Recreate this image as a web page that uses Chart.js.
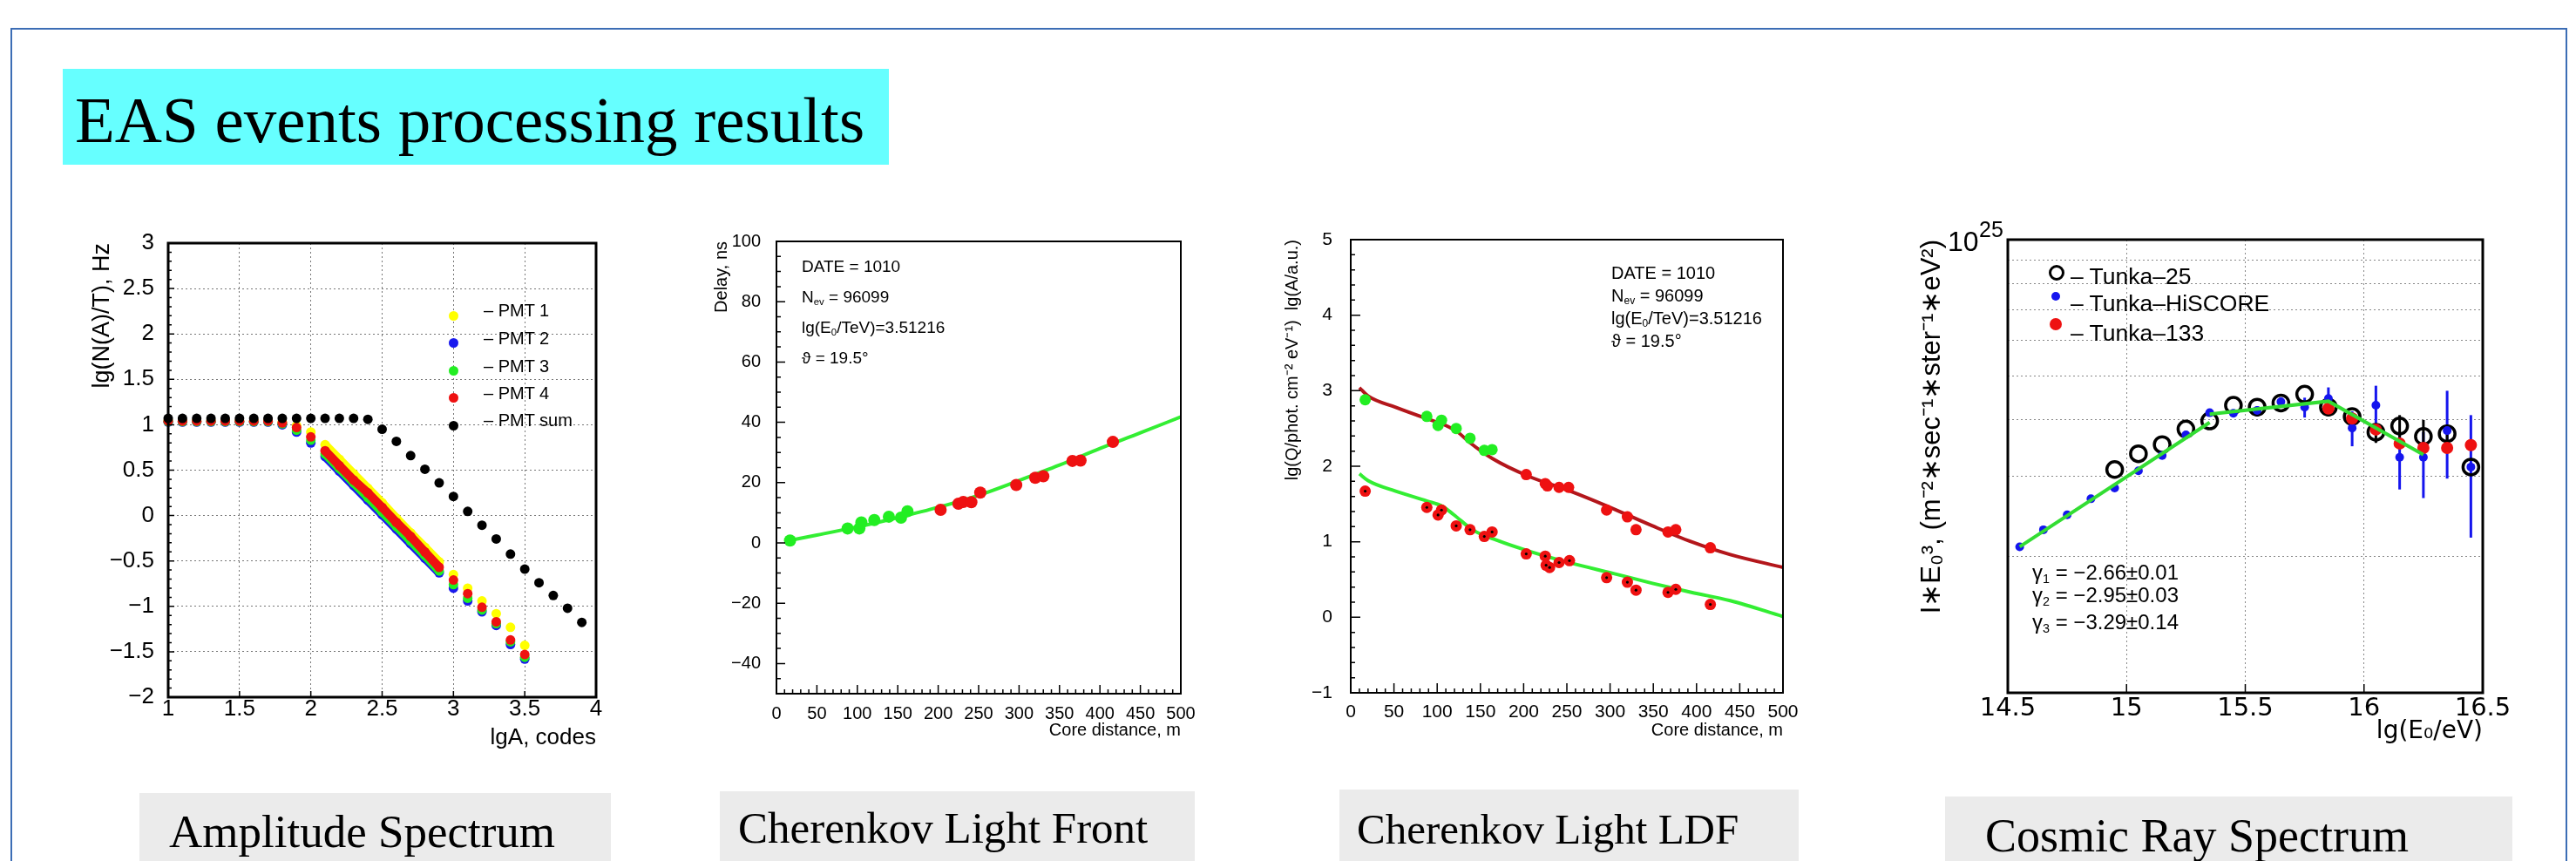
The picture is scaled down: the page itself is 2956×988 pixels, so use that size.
<!DOCTYPE html>
<html>
<head>
<meta charset="utf-8">
<script src="https://cdn.jsdelivr.net/npm/chart.js@4.4.1/dist/chart.umd.min.js"></script>
<style>
body { margin:0; width:2956px; height:988px; overflow:hidden; background:#fff; position:relative; font-family:'Liberation Sans', Arial, sans-serif; }
.abs { position:absolute; white-space:nowrap; line-height:1; color:#000; }
.serif { font-family:'Liberation Serif', 'Times New Roman', serif; }
canvas { position:absolute; }
.dot { position:absolute; border-radius:50%; box-sizing:border-box; }
.box { position:absolute; background:#ebebeb; }
sub { font-size:60%; vertical-align:-0.25em; line-height:0; }
</style>
</head>
<body>
<div style="position:absolute;left:12px;top:32px;width:2930px;height:1000px;border:2px solid #3c6db5;"></div>

<div class="box" style="left:72px;top:79px;width:948px;height:110px;background:#66ffff;"></div>
<div class="abs serif" style="left:86px;top:100px;font-size:75px;">EAS events processing results</div>

<canvas id="c1" width="640" height="611" style="left:80px;top:259px;"></canvas>
<canvas id="c2" width="640" height="613" style="left:760px;top:257px;"></canvas>
<canvas id="c3" width="650" height="615" style="left:1440px;top:255px;"></canvas>
<canvas id="c4" width="730" height="625" style="left:2170px;top:255px;"></canvas>

<!-- amplitude spectrum legend -->
<div class="dot" style="left:514.5px;top:356.5px;width:11px;height:11px;background:#ffff00;"></div>
<div class="dot" style="left:514.5px;top:387.5px;width:11px;height:11px;background:#1a1aee;"></div>
<div class="dot" style="left:514.5px;top:419.5px;width:11px;height:11px;background:#22ee22;"></div>
<div class="dot" style="left:514.5px;top:450.5px;width:11px;height:11px;background:#ee1111;"></div>
<div class="dot" style="left:514.5px;top:482.5px;width:11px;height:11px;background:#000;"></div>
<div class="abs" style="left:555px;top:346px;font-size:20px;">– PMT 1</div>
<div class="abs" style="left:555px;top:378px;font-size:20px;">– PMT 2</div>
<div class="abs" style="left:555px;top:410px;font-size:20px;">– PMT 3</div>
<div class="abs" style="left:555px;top:441px;font-size:20px;">– PMT 4</div>
<div class="abs" style="left:555px;top:472px;font-size:20px;">– PMT sum</div>

<!-- light front notes -->
<div class="abs" style="left:920px;top:296px;font-size:19px;">DATE = 1010</div>
<div class="abs" style="left:920px;top:331px;font-size:19px;">N<sub>ev</sub> = 96099</div>
<div class="abs" style="left:920px;top:366px;font-size:19px;">lg(E<sub>0</sub>/TeV)=3.51216</div>
<div class="abs" style="left:920px;top:401px;font-size:19px;">ϑ = 19.5°</div>

<!-- LDF notes -->
<div class="abs" style="left:1849px;top:303px;font-size:20px;">DATE = 1010</div>
<div class="abs" style="left:1849px;top:329px;font-size:20px;">N<sub>ev</sub> = 96099</div>
<div class="abs" style="left:1849px;top:355px;font-size:20px;">lg(E<sub>0</sub>/TeV)=3.51216</div>
<div class="abs" style="left:1849px;top:381px;font-size:20px;">ϑ = 19.5°</div>

<!-- cosmic ray spectrum notes -->
<div class="abs" style="left:2235px;top:261px;font-size:32px;">10</div>
<div class="abs" style="left:2271px;top:251px;font-size:25px;">25</div>
<div class="dot" style="left:2351px;top:304px;width:18px;height:18px;border:3.5px solid #000;"></div>
<div class="dot" style="left:2354px;top:335px;width:10px;height:10px;background:#1515ee;"></div>
<div class="dot" style="left:2352px;top:365px;width:14px;height:14px;background:#ee1111;"></div>
<div class="abs" style="left:2376px;top:304px;font-size:26.5px;">– Tunka–25</div>
<div class="abs" style="left:2376px;top:335px;font-size:26.5px;">– Tunka–HiSCORE</div>
<div class="abs" style="left:2376px;top:369px;font-size:26.5px;">– Tunka–133</div>
<div class="abs" style="left:2332px;top:645px;font-size:24px;">γ<sub>1</sub> = −2.66±0.01</div>
<div class="abs" style="left:2332px;top:671px;font-size:24px;">γ<sub>2</sub> = −2.95±0.03</div>
<div class="abs" style="left:2332px;top:702px;font-size:24px;">γ<sub>3</sub> = −3.29±0.14</div>

<!-- captions -->
<div class="box" style="left:160px;top:910px;width:541px;height:78px;"></div>
<div class="abs serif" style="left:194px;top:928px;font-size:53px;">Amplitude Spectrum</div>
<div class="box" style="left:826px;top:908px;width:545px;height:80px;"></div>
<div class="abs serif" style="left:847px;top:925px;font-size:51px;">Cherenkov Light Front</div>
<div class="box" style="left:1537px;top:906px;width:527px;height:82px;"></div>
<div class="abs serif" style="left:1557px;top:927px;font-size:49px;">Cherenkov Light LDF</div>
<div class="box" style="left:2232px;top:914px;width:651px;height:74px;"></div>
<div class="abs serif" style="left:2278px;top:932px;font-size:54px;">Cosmic Ray Spectrum</div>

<script>
// amplitude spectrum
const ampX = [1.0, 1.1, 1.2, 1.3, 1.4, 1.5, 1.6, 1.7, 1.8, 1.9, 2.0, 2.1, 2.2, 2.3, 2.4, 2.5, 2.6, 2.7, 2.8, 2.9, 3.0, 3.1, 3.2, 3.3, 3.4, 3.5];
const pmt1 = [1.04, 1.04, 1.04, 1.04, 1.04, 1.04, 1.04, 1.04, 1.03, 0.99, 0.92, 0.78, 0.62, 0.46, 0.30, 0.14, -0.03, -0.19, -0.35, -0.51, -0.65, -0.80, -0.94, -1.08, -1.23, -1.43];
const pmt2 = [1.03, 1.03, 1.03, 1.03, 1.03, 1.03, 1.03, 1.03, 1.00, 0.92, 0.80, 0.65, 0.49, 0.33, 0.17, 0.01, -0.15, -0.31, -0.47, -0.63, -0.80, -0.94, -1.06, -1.21, -1.42, -1.58];
const pmt3 = [1.035, 1.035, 1.035, 1.035, 1.035, 1.035, 1.035, 1.035, 1.01, 0.94, 0.83, 0.68, 0.52, 0.36, 0.20, 0.04, -0.12, -0.28, -0.44, -0.61, -0.76, -0.91, -1.04, -1.19, -1.39, -1.56];
const pmt4 = [1.04, 1.04, 1.04, 1.04, 1.04, 1.04, 1.04, 1.04, 1.02, 0.97, 0.866, 0.714, 0.55, 0.39, 0.25, 0.09, -0.075, -0.23, -0.40, -0.57, -0.71, -0.86, -1.01, -1.17, -1.37, -1.53];
const sumX = [1.0, 1.1, 1.2, 1.3, 1.4, 1.5, 1.6, 1.7, 1.8, 1.9, 2.0, 2.1, 2.2, 2.3, 2.4, 2.5, 2.6, 2.7, 2.8, 2.9, 3.0, 3.1, 3.2, 3.3, 3.4, 3.5, 3.6, 3.7, 3.8, 3.9];
const sumY = [1.07, 1.07, 1.07, 1.07, 1.07, 1.07, 1.07, 1.07, 1.07, 1.07, 1.07, 1.07, 1.07, 1.07, 1.06, 0.95, 0.817, 0.66, 0.51, 0.36, 0.21, 0.046, -0.106, -0.257, -0.424, -0.59, -0.74, -0.88, -1.02, -1.176];
const ampXTicks = [1, 1.5, 2, 2.5, 3, 3.5, 4];
const ampYTicks = [-2, -1.5, -1, -0.5, 0, 0.5, 1, 1.5, 2, 2.5, 3];

// Cherenkov light front
const frontGreenX = [16.8, 88, 102.5, 105, 121, 139, 154, 162];
const frontGreenY = [0.8, 4.8, 4.8, 6.8, 7.6, 8.7, 8.4, 10.5];
const frontRedX = [203, 225, 231, 241, 252, 296.5, 320, 330, 366, 376, 416];
const frontRedY = [11.0, 13.0, 13.6, 13.5, 16.7, 19.2, 21.6, 22.1, 27.2, 27.3, 33.5];
const frontFitX = [15, 50, 100, 150, 200, 250, 300, 350, 400, 450, 500];
const frontFitY = [0.8, 2.6, 5.3, 8.4, 11.8, 15.8, 20.7, 25.8, 31.3, 36.5, 41.8];
const distTicks = [0, 50, 100, 150, 200, 250, 300, 350, 400, 450, 500];
const frontYTicks = [-40, -20, 0, 20, 40, 60, 80, 100];

// Cherenkov light LDF
const ldfGreenX = [16.7, 88, 101, 105, 122, 138, 154.5, 163.5];
const ldfGreenY = [2.88, 2.66, 2.54, 2.61, 2.50, 2.37, 2.21, 2.22];
const ldfRedX = [203, 225, 227.5, 241, 252, 296, 320, 330, 367, 376, 416];
const ldfRedY = [1.89, 1.77, 1.74, 1.72, 1.72, 1.42, 1.33, 1.16, 1.13, 1.16, 0.92];
const ldfAmpX = [16.7, 88, 101, 105, 122, 138, 154.5, 163.5, 203, 225, 226, 230, 241, 253, 296, 320, 330, 367, 376, 416];
const ldfAmpY = [1.67, 1.455, 1.355, 1.42, 1.21, 1.16, 1.07, 1.13, 0.84, 0.81, 0.69, 0.66, 0.725, 0.75, 0.525, 0.465, 0.36, 0.33, 0.37, 0.17];
const ldfFitQX = [10, 20, 52, 88, 101, 110, 124, 137, 164, 205, 254, 295, 349, 394, 439, 500];
const ldfFitQY = [3.04, 2.93, 2.78, 2.63, 2.58, 2.54, 2.45, 2.32, 2.10, 1.87, 1.67, 1.48, 1.21, 1.00, 0.83, 0.66];
const ldfFitAX = [10, 20, 52, 88, 106, 119, 142, 169, 205, 254, 304, 349, 394, 439, 500];
const ldfFitAY = [1.90, 1.81, 1.67, 1.54, 1.47, 1.36, 1.15, 1.02, 0.88, 0.72, 0.58, 0.45, 0.33, 0.22, 0.01];
const ldfYTicks = [-1, 0, 1, 2, 3, 4, 5];

// cosmic ray spectrum, y in units of 1e24
const hiscoreX = [14.55, 14.65, 14.75, 14.85, 14.95, 15.05, 15.15, 15.25, 15.35, 15.45, 15.55, 15.65, 15.75, 15.85, 15.95, 16.05, 16.15, 16.25, 16.35, 16.45];
const hiscoreY = [2.10, 2.29, 2.47, 2.68, 2.83, 3.09, 3.34, 3.71, 4.15, 4.14, 4.20, 4.39, 4.27, 4.46, 3.84, 4.31, 3.31, 3.31, 3.79, 3.15];
const hiscoreLo = [null, null, null, null, null, null, null, null, null, 4.07, 4.07, 4.29, 4.05, 4.18, 3.50, 3.76, 2.81, 2.69, 2.97, 2.20];
const hiscoreHi = [null, null, null, null, null, null, null, null, null, 4.22, 4.29, 4.48, 4.48, 4.72, 4.18, 4.76, 3.76, 3.76, 4.64, 4.10];
const tunka25X = [14.95, 15.05, 15.15, 15.25, 15.35, 15.45, 15.55, 15.65, 15.75, 15.85, 15.95, 16.05, 16.15, 16.25, 16.35, 16.45];
const tunka25Y = [3.11, 3.37, 3.53, 3.82, 3.98, 4.31, 4.27, 4.36, 4.56, 4.27, 4.07, 3.76, 3.88, 3.68, 3.73, 3.15];
const tunka25Lo = [null, null, null, null, null, null, null, null, null, null, null, 3.56, 3.66, 3.53, 3.56, null];
const tunka25Hi = [null, null, null, null, null, null, null, null, null, null, null, 3.89, 4.10, 4.00, 3.89, null];
const tunka133X = [15.85, 15.95, 16.05, 16.15, 16.25, 16.35, 16.45];
const tunka133Y = [4.24, 4.03, 3.81, 3.55, 3.47, 3.47, 3.52];
const kneeX = [14.55, 15.35, 15.35, 15.35, 15.85, 16.25];
const kneeY = [2.10, 3.95, null, 4.12, 4.40, 3.355];
const crXTicks = [14.5, 15, 15.5, 16, 16.5];
const crYGrid = [1, 2, 3, 4, 5, 6, 7, 8, 9, 10];

Chart.defaults.font.family = "'Liberation Sans', Arial, sans-serif";
Chart.defaults.color = '#000';

function pts(xs, ys) {
    return xs.map(function(x, i) { return {x: x, y: ys[i]}; });
}
function minus(v) {
    return v < 0 ? '\u2212' + Math.abs(v) : String(v);
}
function setTicks(list) {
    return function(s) { s.ticks = list.map(function(v) { return {value: v}; }); };
}
function fixX(h) {
    return function(s) { s.height = h; s.paddingLeft = 0; s.paddingRight = 0; };
}
function fixY(w) {
    return function(s) { s.width = w; s.paddingTop = 0; s.paddingBottom = 0; };
}

// ROOT-like frame with inner ticks
const framePlugin = {
    id: 'frame',
    afterDraw(chart, args, o) {
        const ctx = chart.ctx;
        const a = chart.chartArea;
        const sx = chart.scales.x, sy = chart.scales.y;
        ctx.save();
        ctx.strokeStyle = '#000';
        ctx.lineWidth = 1.5;
        ctx.beginPath();
        if (o.xMinor) {
            const n = Math.round((sx.max - sx.min) / o.xMinor);
            for (let i = 0; i <= n; i++) {
                const v = sx.min + i * o.xMinor;
                const q = v / o.xMajor;
                const len = Math.abs(q - Math.round(q)) < 1e-6 ? o.major : o.minor;
                const px = sx.getPixelForValue(v);
                ctx.moveTo(px, a.bottom);
                ctx.lineTo(px, a.bottom - len);
            }
        }
        if (o.yMinor) {
            const n = Math.round((sy.max - sy.min) / o.yMinor);
            for (let i = 0; i <= n; i++) {
                const v = sy.min + i * o.yMinor;
                const q = v / o.yMajor;
                const len = Math.abs(q - Math.round(q)) < 1e-6 ? o.major : o.minor;
                const py = sy.getPixelForValue(v);
                ctx.moveTo(a.left, py);
                ctx.lineTo(a.left + len, py);
            }
        }
        ctx.stroke();
        ctx.lineWidth = o.width;
        ctx.strokeRect(a.left, a.top, a.right - a.left, a.bottom - a.top);
        ctx.restore();
    }
};

// vertical error bars from dataset.errLo / errHi
const errPlugin = {
    id: 'errbars',
    beforeDatasetsDraw(chart) {
        const ctx = chart.ctx;
        const sx = chart.scales.x, sy = chart.scales.y;
        chart.data.datasets.forEach(function(ds) {
            if (!ds.errLo) return;
            ctx.save();
            ctx.strokeStyle = ds.errColor;
            ctx.lineWidth = ds.errWidth;
            ds.data.forEach(function(p, i) {
                if (ds.errLo[i] == null) return;
                const px = sx.getPixelForValue(p.x);
                ctx.beginPath();
                ctx.moveTo(px, sy.getPixelForValue(ds.errLo[i]));
                ctx.lineTo(px, sy.getPixelForValue(ds.errHi[i]));
                ctx.stroke();
            });
            ctx.restore();
        });
    }
};

function pmtSet(label, ys, color, order) {
    return {
        label: label, data: pts(ampX, ys), order: order, clip: false,
        showLine: true, borderWidth: 10, borderColor: color,
        segment: {
            borderColor: function(c) {
                return (c.p0.parsed.x >= 2.09 && c.p1.parsed.x <= 2.91) ? color : 'rgba(0,0,0,0)';
            }
        },
        pointRadius: 5.5, pointBackgroundColor: color, pointBorderWidth: 0
    };
}

const noPlugins = { legend: { display: false }, tooltip: { enabled: false } };

// chart 1
new Chart(document.getElementById('c1'), {
    type: 'scatter',
    data: {
        datasets: [
            { label: 'PMT sum', data: pts(sumX, sumY), order: 1, clip: false,
              pointRadius: 5.5, pointBackgroundColor: '#000', pointBorderWidth: 0 },
            pmtSet('PMT 4', pmt4, '#ee1111', 2),
            pmtSet('PMT 3', pmt3, '#22ee22', 3),
            pmtSet('PMT 2', pmt2, '#1a1aee', 4),
            pmtSet('PMT 1', pmt1, '#ffff00', 5)
        ]
    },
    options: {
        responsive: false, animation: false, events: [],
        layout: { padding: { top: 20, right: 36, left: 0, bottom: 0 } },
        plugins: Object.assign({
            frame: { width: 3, major: 7, minor: 4, xMinor: 0.5, xMajor: 0.5, yMinor: 0.1, yMajor: 0.5 }
        }, noPlugins),
        scales: {
            x: {
                type: 'linear', min: 1, max: 4,
                afterBuildTicks: setTicks(ampXTicks), afterFit: fixX(70),
                grid: { color: '#777', drawTicks: false },
                border: { display: false, dash: [2, 3] },
                ticks: { autoSkip: false, maxRotation: 0, padding: 1, font: { size: 26, lineHeight: 1 }, callback: minus },
                title: { display: true, text: 'lgA, codes', align: 'end', font: { size: 26, lineHeight: 1 }, padding: { top: 0, bottom: 10 } }
            },
            y: {
                type: 'linear', min: -2, max: 3,
                afterBuildTicks: setTicks(ampYTicks), afterFit: fixY(113),
                grid: { color: '#777', drawTicks: false },
                border: { display: false, dash: [2, 3] },
                ticks: { autoSkip: false, padding: 16, font: { size: 26, lineHeight: 1 }, callback: minus },
                title: { display: true, text: 'lg(N(A)/T), Hz', align: 'end', font: { size: 27, lineHeight: 1 }, padding: { top: 24.5, bottom: 0 } }
            }
        }
    },
    plugins: [framePlugin]
});

// chart 2
new Chart(document.getElementById('c2'), {
    type: 'scatter',
    data: {
        datasets: [
            { label: 'inner', data: pts(frontGreenX, frontGreenY), order: 1,
              pointRadius: 7, pointBackgroundColor: '#22ee22', pointBorderWidth: 0 },
            { label: 'outer', data: pts(frontRedX, frontRedY), order: 2,
              pointRadius: 7, pointBackgroundColor: '#ee1111', pointBorderWidth: 0 },
            { label: 'fit', data: pts(frontFitX, frontFitY), order: 3, showLine: true,
              borderColor: '#33ee33', borderWidth: 4, cubicInterpolationMode: 'monotone', pointRadius: 0 }
        ]
    },
    options: {
        responsive: false, animation: false, events: [],
        layout: { padding: { top: 20, right: 45, left: 0, bottom: 0 } },
        plugins: Object.assign({
            frame: { width: 2, major: 10, minor: 5, xMinor: 10, xMajor: 50, yMinor: 5, yMajor: 20 }
        }, noPlugins),
        scales: {
            x: {
                type: 'linear', min: 0, max: 500,
                afterBuildTicks: setTicks(distTicks), afterFit: fixX(74),
                grid: { display: false }, border: { display: false },
                ticks: { autoSkip: false, maxRotation: 0, padding: 5, font: { size: 20, lineHeight: 1 } },
                title: { display: true, text: 'Core distance, m', align: 'end', font: { size: 20, lineHeight: 1 }, padding: { top: 0, bottom: 22 } }
            },
            y: {
                type: 'linear', min: -50, max: 100,
                afterBuildTicks: setTicks(frontYTicks), afterFit: fixY(131),
                grid: { display: false }, border: { display: false },
                ticks: { autoSkip: false, padding: 10, font: { size: 20, lineHeight: 1 }, callback: minus },
                title: { display: true, text: 'Delay, ns', align: 'end', font: { size: 20, lineHeight: 1 }, padding: { top: 58, bottom: 0 } }
            }
        }
    },
    plugins: [framePlugin]
});

// chart 3
new Chart(document.getElementById('c3'), {
    type: 'scatter',
    data: {
        datasets: [
            { label: 'centers', data: pts(ldfAmpX, ldfAmpY), order: 1,
              pointRadius: 1.6, pointBackgroundColor: '#000', pointBorderWidth: 0 },
            { label: 'amplitude', data: pts(ldfAmpX, ldfAmpY), order: 2,
              pointRadius: 6.5, pointBackgroundColor: '#ee1111', pointBorderWidth: 0 },
            { label: 'density outer', data: pts(ldfRedX, ldfRedY), order: 3,
              pointRadius: 6.5, pointBackgroundColor: '#ee1111', pointBorderWidth: 0 },
            { label: 'density inner', data: pts(ldfGreenX, ldfGreenY), order: 4,
              pointRadius: 6.5, pointBackgroundColor: '#22ee22', pointBorderWidth: 0 },
            { label: 'fit Q', data: pts(ldfFitQX, ldfFitQY), order: 5, showLine: true,
              borderColor: '#b3161b', borderWidth: 4, cubicInterpolationMode: 'monotone', pointRadius: 0 },
            { label: 'fit A', data: pts(ldfFitAX, ldfFitAY), order: 6, showLine: true,
              borderColor: '#33ee33', borderWidth: 4, cubicInterpolationMode: 'monotone', pointRadius: 0 }
        ]
    },
    options: {
        responsive: false, animation: false, events: [],
        layout: { padding: { top: 20, right: 44, left: 0, bottom: 0 } },
        plugins: Object.assign({
            frame: { width: 2, major: 11, minor: 5, xMinor: 10, xMajor: 50, yMinor: 0.2, yMajor: 1 }
        }, noPlugins),
        scales: {
            x: {
                type: 'linear', min: 0, max: 500,
                afterBuildTicks: setTicks(distTicks), afterFit: fixX(75),
                grid: { display: false }, border: { display: false },
                ticks: { autoSkip: false, maxRotation: 0, padding: 3.5, font: { size: 21, lineHeight: 1 } },
                title: { display: true, text: 'Core distance, m', align: 'end', font: { size: 20, lineHeight: 1 }, padding: { top: 0, bottom: 22 } }
            },
            y: {
                type: 'linear', min: -1, max: 5,
                afterBuildTicks: setTicks(ldfYTicks), afterFit: fixY(110),
                grid: { display: false }, border: { display: false },
                ticks: { autoSkip: false, padding: 13, font: { size: 21, lineHeight: 1 }, callback: minus },
                title: { display: true, text: 'lg(Q/phot. cm\u207B\u00B2 eV\u207B\u00B9)  lg(A/a.u.)', align: 'end', font: { size: 20, lineHeight: 1 }, padding: { top: 33, bottom: 0 } }
            }
        }
    },
    plugins: [framePlugin]
});

// chart 4
new Chart(document.getElementById('c4'), {
    type: 'scatter',
    data: {
        datasets: [
            { label: 'fit', data: pts(kneeX, kneeY), order: 1, showLine: true, spanGaps: false,
              borderColor: '#33dd33', borderWidth: 4, pointRadius: 0 },
            { label: 'Tunka-133', data: pts(tunka133X, tunka133Y), order: 2,
              pointRadius: 7, pointBackgroundColor: '#ee1111', pointBorderWidth: 0 },
            { label: 'Tunka-HiSCORE', data: pts(hiscoreX, hiscoreY), order: 3,
              errLo: hiscoreLo, errHi: hiscoreHi, errColor: '#1515ee', errWidth: 3,
              pointRadius: 5, pointBackgroundColor: '#1515ee', pointBorderWidth: 0 },
            { label: 'Tunka-25', data: pts(tunka25X, tunka25Y), order: 4,
              errLo: tunka25Lo, errHi: tunka25Hi, errColor: '#000', errWidth: 3,
              pointRadius: 9, pointBackgroundColor: 'rgba(0,0,0,0)', pointBorderColor: '#000', pointBorderWidth: 3.5 }
        ]
    },
    options: {
        responsive: false, animation: false, events: [],
        layout: { padding: { top: 20, right: 51, left: 0, bottom: 0 } },
        plugins: Object.assign({
            frame: { width: 3, major: 10, minor: 10, xMinor: 0.5, xMajor: 0.5 }
        }, noPlugins),
        scales: {
            x: {
                type: 'linear', min: 14.5, max: 16.5,
                afterBuildTicks: setTicks(crXTicks), afterFit: fixX(85),
                grid: { color: '#888', drawTicks: false },
                border: { display: false, dash: [2, 3] },
                ticks: { autoSkip: false, maxRotation: 0, padding: 4, font: { family: "'DejaVu Sans', sans-serif", size: 29, lineHeight: 1 },
                         callback: function(v) { return String(v); } },
                title: { display: true, text: 'lg(E\u2080/eV)', align: 'end', font: { family: "'DejaVu Sans', sans-serif", size: 28, lineHeight: 1 }, padding: { top: 0, bottom: 26 } }
            },
            y: {
                type: 'logarithmic', min: 1, max: 10,
                afterBuildTicks: setTicks(crYGrid), afterFit: fixY(134),
                grid: { color: '#888', drawTicks: false },
                border: { display: false, dash: [2, 3] },
                ticks: { display: false, autoSkip: false },
                title: { display: true, text: 'I\u2217E\u2080\u00B3, (m\u207B\u00B2\u2217sec\u207B\u00B9\u2217ster\u207B\u00B9\u2217eV\u00B2)', align: 'end', font: { size: 31, lineHeight: 1 }, padding: { top: 31.5, bottom: 0 } }
            }
        }
    },
    plugins: [framePlugin, errPlugin]
});
</script>
</body>
</html>
